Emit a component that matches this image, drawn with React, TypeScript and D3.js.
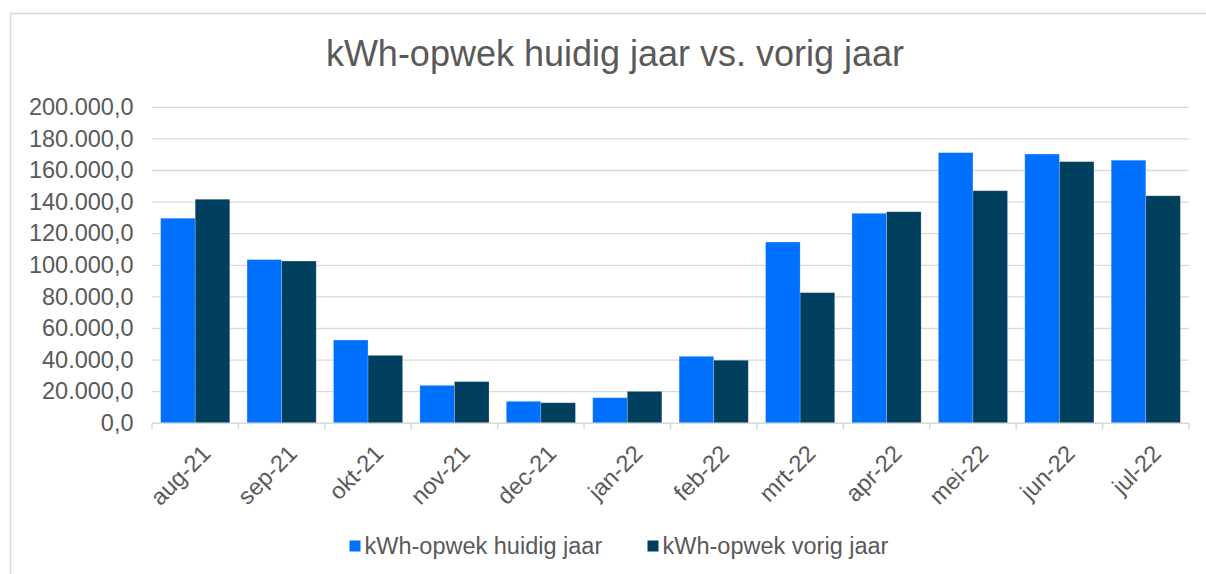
import React from 'react';
import * as d3 from 'd3';

const months = ['aug-21', 'sep-21', 'okt-21', 'nov-21', 'dec-21', 'jan-22', 'feb-22', 'mrt-22', 'apr-22', 'mei-22', 'jun-22', 'jul-22'];
const huidigJaar = [129800, 103600, 52700, 24000, 13900, 16200, 42400, 114700, 132900, 171300, 170400, 166500];
const vorigJaar = [141800, 102700, 43000, 26400, 13000, 20200, 39900, 82700, 133900, 147200, 165600, 144000];
const seriesNames = ['kWh-opwek huidig jaar', 'kWh-opwek vorig jaar'];
const seriesColors = ['#0070ff', '#00405e'];
const yTicks = [0, 20000, 40000, 60000, 80000, 100000, 120000, 140000, 160000, 180000, 200000];

const W = 1206;
const H = 574;
const FONT = '"Liberation Sans", Arial, sans-serif';
const TEXT = '#595959';
const GRID = '#d9d9d9';

const nl = d3.formatLocale({ decimal: ',', thousands: '.', grouping: [3], currency: ['€', ''] });
const fmt = nl.format(',.1f');

export default function App() {
  const plot = { left: 152, right: 1189, top: 107.3, bottom: 423.3 };

  const x = d3.scaleBand<string>().domain(months).range([plot.left, plot.right]).padding(0);
  const x1 = d3.scaleBand<number>().domain([0, 1]).range([0, x.bandwidth()]).paddingInner(0).paddingOuter(0.25);
  const y = d3.scaleLinear().domain([0, 200000]).range([plot.bottom, plot.top]);

  const series = [huidigJaar, vorigJaar];
  const tickXs = months.map((m) => x(m)!).concat([plot.right]);

  return (
    <svg width={W} height={H} style={{ position: 'absolute', left: 0, top: 0, fontFamily: FONT }}>
      <rect x={0} y={0} width={W} height={H} fill="#fff" />
      {/* chart frame */}
      <path d={`M10.5,${H} V13.5 H${W}`} fill="none" stroke={GRID} strokeWidth={1.5} />

      <text x={615} y={66} textAnchor="middle" fontSize={36} fill={TEXT}>
        kWh-opwek huidig jaar vs. vorig jaar
      </text>

      {/* gridlines + y labels */}
      {yTicks.map((t) => (
        <g key={t}>
          {t > 0 && (
            <line x1={plot.left} x2={plot.right} y1={y(t)} y2={y(t)} stroke={GRID} strokeWidth={1.3} />
          )}
          <text x={133.5} y={y(t)} dy="0.33em" textAnchor="end" fontSize={23.5} fill={TEXT}>
            {fmt(t)}
          </text>
        </g>
      ))}

      {/* bars */}
      {months.map((m, i) => (
        <g key={m} transform={`translate(${x(m)},0)`}>
          {series.map((vals, s) => (
            <rect
              key={s}
              x={x1(s)}
              y={y(vals[i])}
              width={x1.bandwidth()}
              height={y(0) - y(vals[i])}
              fill={seriesColors[s]}
              stroke="#ffffff"
              strokeOpacity={0.25}
              strokeWidth={0.8}
            />
          ))}
        </g>
      ))}

      {/* x axis */}
      <line x1={plot.left} x2={plot.right} y1={plot.bottom} y2={plot.bottom} stroke={GRID} strokeWidth={1.5} />
      {tickXs.map((tx, i) => (
        <line key={i} x1={tx} x2={tx} y1={plot.bottom} y2={plot.bottom + 6} stroke={GRID} strokeWidth={1.5} />
      ))}
      {months.map((m) => {
        const cx = x(m)! + x.bandwidth() / 2 + 11;
        const cy = plot.bottom + 26;
        return (
          <text
            key={m}
            x={cx}
            y={cy}
            dy="0.35em"
            textAnchor="end"
            fontSize={23.5}
            fill={TEXT}
            transform={`rotate(-45,${cx},${cy})`}
          >
            {m}
          </text>
        );
      })}

      {/* legend */}
      {seriesNames.map((name, s) => {
        const lx = [349.5, 647.5][s];
        return (
          <g key={name}>
            <rect x={lx} y={540.5} width={11} height={11} fill={seriesColors[s]} />
            <text x={lx + 15} y={546} dy="0.35em" fontSize={23.5} fill={TEXT}>
              {name}
            </text>
          </g>
        );
      })}
    </svg>
  );
}
